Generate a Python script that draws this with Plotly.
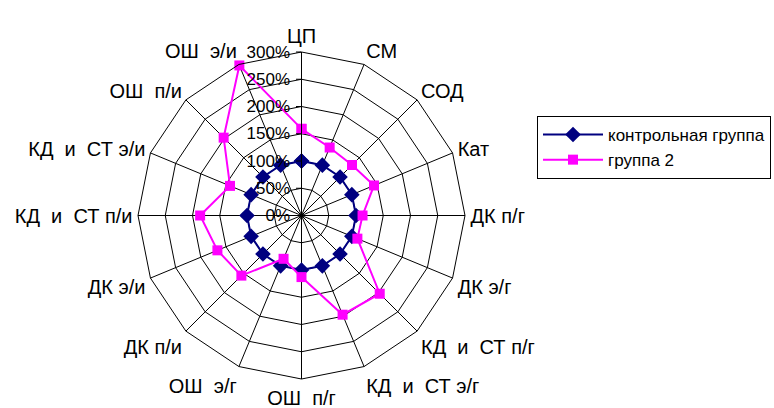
import plotly.graph_objects as go

categories = ["ЦП", "СМ", "СОД", "Кат", "ДК п/г", "ДК э/г", "КД  и  СТ п/г", "КД  и  СТ э/г",
              "ОШ  п/г", "ОШ  э/г", "ДК п/и", "ДК э/и", "КД  и  СТ п/и", "КД  и  СТ э/и",
              "ОШ  п/и", "ОШ  э/и"]
control_values = [100, 100, 100, 100, 100, 100, 100, 100, 100, 100, 100, 100, 100, 100, 100, 100]
group2_values = [159, 135, 131, 144, 112, 111, 203, 197, 113, 86, 156, 167, 186, 142, 202, 298]
radial_ticks = [0, 50, 100, 150, 200, 250, 300]
radial_tick_labels = ["0%", "50%", "100%", "150%", "200%", "250%", "300%"]

W, H = 774, 408
cx, cy, R = 301.5, 215.5, 163.5

def closed(v):
    return list(v) + [v[0]]

fig = go.Figure()
fig.add_trace(go.Scatterpolar(
    r=closed(control_values), theta=closed(categories), name="контрольная группа",
    mode="lines+markers", line=dict(color="#000080", width=2),
    marker=dict(symbol="diamond", size=12, color="#000080")))
fig.add_trace(go.Scatterpolar(
    r=closed(group2_values), theta=closed(categories), name="группа 2",
    mode="lines+markers", line=dict(color="#FF00FF", width=2),
    marker=dict(symbol="square", size=10, color="#FF00FF")))

fig.update_layout(
    width=W, height=H,
    margin=dict(l=0, r=0, t=0, b=0, autoexpand=False),
    paper_bgcolor="white", plot_bgcolor="white",
    font=dict(family="Liberation Sans, Arial, sans-serif", size=17, color="black"),
    polar=dict(
        domain=dict(x=[(cx - R) / W, (cx + R) / W], y=[(H - cy - R) / H, (H - cy + R) / H]),
        bgcolor="white",
        gridshape="linear",
        angularaxis=dict(rotation=90, direction="clockwise", type="category",
                         categoryorder="array", categoryarray=categories,
                         showgrid=True, gridcolor="black", gridwidth=1,
                         showline=True, linecolor="black", linewidth=1,
                         ticks="outside", ticklen=1, tickcolor="rgba(0,0,0,0)",
                         tickfont=dict(size=20)),
        radialaxis=dict(range=[0, 300], tickvals=radial_ticks, ticktext=radial_tick_labels,
                        angle=90, side="counterclockwise", tickangle=90,
                        showgrid=True, gridcolor="black", gridwidth=1,
                        showline=True, linecolor="black", linewidth=1,
                        ticks="outside", ticklen=5, tickcolor="black",
                        tickfont=dict(size=17)),
    ),
    legend=dict(x=537 / W, y=(H - 116) / H, xanchor="left", yanchor="top",
                bordercolor="black", borderwidth=1, bgcolor="white",
                font=dict(size=17), tracegroupgap=0, itemwidth=60),
    showlegend=True,
)

fig.write_html("out.html", config={"displayModeBar": False},
               post_script="document.body.style.margin='0';")
